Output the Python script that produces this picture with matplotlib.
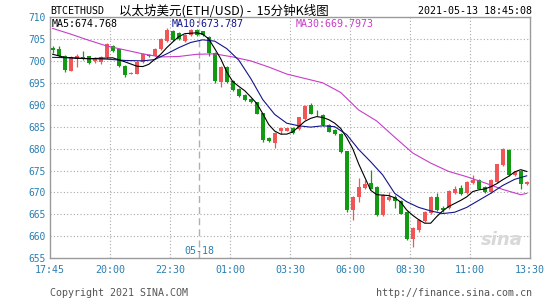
import numpy as np
import matplotlib
matplotlib.use("Agg")
import matplotlib.pyplot as plt

# ---- data (15-min candles, ETH/USD) ----
opens = [703.0, 702.6, 701.0, 697.8, 700.5, 700.9, 701.0, 699.9, 699.7, 700.8,
         703.4, 702.6, 698.9, 697.0, 697.0, 699.8, 701.3, 701.2, 702.6, 704.5,
         706.8, 706.3, 704.6, 705.8, 707.1, 706.7, 705.5, 701.8, 695.1, 698.7,
         695.5, 693.6, 692.3, 691.4, 690.6, 688.1, 682.5, 681.2, 684.0, 684.1,
         684.8, 684.5, 686.8, 690.0, 688.0, 687.7, 685.3, 684.2, 683.4, 679.4,
         666.0, 669.0, 671.0, 672.1, 671.3, 664.9, 668.3, 669.0, 668.0, 665.6,
         659.5, 661.4, 663.4, 665.4, 668.9, 666.5, 666.4, 669.9, 671.0, 669.8,
         672.2, 672.8, 671.3, 670.1, 672.4, 676.2, 679.6, 674.0, 674.9, 672.0]
highs = [703.5, 703.3, 701.3, 701.2, 701.6, 702.3, 701.1, 700.8, 701.0, 704.1,
         703.6, 702.7, 699.0, 697.5, 699.9, 701.7, 701.6, 702.9, 705.2, 707.5,
         707.0, 706.5, 706.2, 707.3, 707.2, 706.9, 705.7, 702.0, 698.9, 698.8,
         695.7, 693.8, 692.5, 691.5, 690.7, 688.2, 682.7, 683.7, 684.7, 684.8,
         685.0, 687.2, 690.0, 690.4, 688.8, 687.9, 685.5, 684.4, 683.6, 679.5,
         669.2, 673.2, 672.8, 675.1, 671.5, 669.6, 670.0, 669.4, 668.2, 665.8,
         662.2, 663.9, 665.8, 669.1, 669.9, 666.9, 670.6, 671.4, 671.7, 672.6,
         673.9, 673.0, 671.5, 673.0, 676.6, 680.2, 679.8, 675.0, 675.1, 672.6]
lows = [701.8, 700.8, 697.4, 697.7, 698.6, 700.3, 699.2, 699.6, 699.4, 700.6,
        702.1, 698.6, 696.3, 696.9, 696.9, 699.6, 700.8, 701.0, 702.5, 704.3,
        704.5, 704.8, 704.4, 705.6, 705.7, 705.6, 701.0, 694.9, 694.0, 694.9,
        693.1, 691.7, 690.8, 690.4, 687.8, 681.4, 681.5, 680.2, 683.3, 684.0,
        683.3, 684.3, 686.6, 687.8, 687.5, 685.1, 683.7, 683.2, 679.0, 665.6,
        663.7, 667.9, 670.8, 670.7, 664.7, 664.7, 668.1, 666.5, 665.0, 659.2,
        657.5, 660.9, 663.2, 665.2, 665.8, 665.6, 666.2, 669.6, 669.4, 669.6,
        672.0, 670.7, 669.9, 669.9, 672.2, 676.0, 673.7, 673.8, 670.7, 671.8]
closes = [702.5, 701.1, 697.9, 700.8, 701.0, 700.6, 699.6, 700.6, 700.9, 703.9,
          702.3, 698.9, 696.7, 697.3, 699.7, 701.6, 701.1, 702.7, 705.0, 707.0,
          704.7, 705.0, 706.0, 707.1, 705.9, 705.8, 701.8, 695.3, 698.7, 695.1,
          693.3, 691.9, 691.0, 690.6, 688.0, 681.9, 681.8, 683.6, 684.6, 684.7,
          683.5, 687.1, 689.8, 688.0, 687.8, 685.3, 683.9, 683.4, 679.2, 666.0,
          669.0, 671.3, 672.0, 670.9, 664.9, 669.4, 669.0, 668.0, 665.2, 659.4,
          662.0, 663.7, 665.6, 668.9, 666.0, 666.0, 670.4, 670.9, 669.6, 672.4,
          672.8, 670.9, 670.1, 672.8, 676.4, 680.0, 673.9, 674.7, 672.0, 672.4]

# moving averages as drawn on the chart (bar index, value)
ma5_x = [0, 2, 4, 6, 8, 10, 12, 14, 15, 16, 18, 19, 20, 21, 22, 24, 25, 26, 27, 28,
         29, 30, 31, 32, 33, 34, 35, 36, 37, 38, 39, 40, 41, 42, 43, 44, 45, 46, 47,
         48, 49, 50, 51, 52, 53, 54, 55, 56, 57, 58, 59, 60, 61, 62, 63, 64, 65, 66,
         67, 68, 69, 70, 71, 72, 73, 74, 75, 76, 77, 78, 79]
ma5_y = [701.5, 700.8, 700.6, 700.5, 700.6, 700.7, 699.8, 698.8, 698.7, 699.2,
         701.5, 703.0, 704.3, 705.5, 706.2, 706.4, 706.1, 705.0, 702.8, 700.5,
         697.5, 695.3, 694.2, 693.2, 691.8, 690.3, 688.0, 685.5, 684.0, 683.3,
         683.3, 683.8, 685.0, 686.2, 686.9, 687.3, 687.1, 686.6, 685.8, 684.6,
         682.5, 680.0, 676.5, 673.5, 670.5, 669.5, 669.4, 669.3, 668.8, 667.8,
         666.0, 664.8, 663.8, 663.0, 663.0, 664.5, 665.8, 666.8, 667.5, 668.2,
         669.0, 670.2, 670.6, 670.8, 671.3, 672.0, 672.9, 673.7, 674.7, 675.2, 674.8]
ma10_x = [0, 3, 6, 9, 12, 15, 17, 19, 21, 23, 25, 27, 29, 31, 33, 35, 37, 39, 41,
          43, 45, 47, 49, 51, 53, 55, 57, 59, 61, 63, 65, 67, 69, 71, 73, 75, 77, 79]
ma10_y = [700.8, 700.7, 700.5, 700.4, 700.1, 700.0, 700.3, 701.6, 703.0, 704.2,
          704.8, 704.5, 702.8, 700.2, 696.0, 691.2, 687.8, 685.8, 685.2, 684.9,
          685.2, 685.0, 683.2, 679.8, 677.0, 674.0, 669.8, 667.9, 666.6, 665.8,
          665.2, 665.5, 666.6, 668.2, 669.8, 671.6, 673.0, 673.8]
ma30_x = [0, 3, 6, 9, 12, 15, 18, 21, 24, 27, 30, 33, 36, 39, 42, 45, 48, 51, 54,
          57, 60, 63, 66, 69, 72, 75, 78, 79]
ma30_y = [707.4, 706.1, 704.7, 703.4, 702.5, 701.6, 700.9, 701.0, 701.5, 701.6,
          700.9, 700.0, 698.6, 697.0, 696.0, 695.0, 692.8, 688.8, 686.3, 682.6,
          679.0, 676.7, 674.8, 673.6, 672.2, 670.7, 669.5, 669.8]

time_labels = ['17:45', '20:00', '22:30', '01:00', '03:30', '06:00', '08:30', '11:00', '13:30']
price_ticks = [655, 660, 665, 670, 675, 680, 685, 690, 695, 700, 705, 710]
day_break = 24.45

UP = '#f05656'
DOWN = '#129a12'
LABEL_BLUE = '#2a7fb0'
MONO = 'DejaVu Sans Mono'

fig = plt.figure(figsize=(5.45, 3.0), dpi=100)
ax = fig.add_axes([50 / 545, 1 - 258.3 / 300, 480 / 545, (258.3 - 17) / 300])

xlim = (-0.45, 79.55)
ax.set_xlim(*xlim)
ax.set_ylim(655, 710)

# grid
grid_x = np.linspace(xlim[0], xlim[1], len(time_labels))
for gx in grid_x[1:-1]:
    ax.axvline(gx, color='#a8a8a8', linewidth=0.8, linestyle=(0, (1, 2)), zorder=0)
for py in price_ticks[1:-1]:
    ax.axhline(py, color='#a8a8a8', linewidth=0.8, linestyle=(0, (1, 2)), zorder=0)
ax.axvline(day_break, color='#b0b0b0', linewidth=1.0, linestyle=(0, (5, 3)), zorder=0)

# candles
o = np.array(opens)
c = np.array(closes)
h = np.array(highs)
l = np.array(lows)
x = np.arange(len(o))
colors = [UP if cc >= oo else DOWN for oo, cc in zip(o, c)]
ax.vlines(x, l, h, colors=colors, linewidth=0.9, zorder=2)
bottoms = np.minimum(o, c)
heights = np.maximum(np.abs(c - o), 0.15)
ax.bar(x, heights, bottom=bottoms, width=0.72, color=colors, linewidth=0, zorder=3)

# moving averages
ax.plot(ma30_x, ma30_y, color='#c83cc8', linewidth=0.8, zorder=4)
ax.plot(ma10_x, ma10_y, color='#14148c', linewidth=0.8, zorder=4)
ax.plot(ma5_x, ma5_y, color='black', linewidth=0.8, zorder=5)

# axes styling
for s in ax.spines.values():
    s.set_color('#9a9a9a')
    s.set_linewidth(1.0)
ax.set_xticks(grid_x)
ax.set_xticklabels(time_labels, fontfamily=MONO, fontsize=7.2, color=LABEL_BLUE)
ax.set_yticks(price_ticks)
ax.set_yticklabels([str(p) for p in price_ticks], fontfamily=MONO, fontsize=6.9, color=LABEL_BLUE)
ax.tick_params(axis='both', length=0)
ax.tick_params(axis='x', pad=5)
ax.tick_params(axis='y', pad=3)

# legend row inside the plot
ax.text(0.004, 0.972, 'MA5:674.768', transform=ax.transAxes, fontfamily=MONO,
        fontsize=7.2, color='black', va='center', ha='left')
ax.text(0.254, 0.972, 'MA10:673.787', transform=ax.transAxes, fontfamily=MONO,
        fontsize=7.2, color='#14148c', va='center', ha='left')
ax.text(0.512, 0.972, 'MA30:669.7973', transform=ax.transAxes, fontfamily=MONO,
        fontsize=7.2, color='#c83cc8', va='center', ha='left')

# day marker
ax.text(day_break, 656.6, '05-18', fontfamily=MONO, fontsize=7.2, color=LABEL_BLUE,
        ha='center', va='center', zorder=1)

# watermark
ax.text(0.985, 0.04, 'sina', transform=ax.transAxes, fontsize=13, fontstyle='italic',
        fontweight='bold', color='#d8d8d8', ha='right', va='bottom', zorder=1)

# header
fig.text(50 / 545, 1 - 11 / 300, 'BTCETHUSD', fontfamily=MONO, fontsize=7.2,
         color='black', va='center', ha='left')
fig.text(119 / 545, 1 - 11 / 300, '以太坊美元(ETH/USD) -  15分钟K线图',
         family=['Noto Sans CJK SC', 'DejaVu Sans'], fontsize=9,
         color='black', va='center', ha='left')
fig.text(532 / 545, 1 - 11 / 300, '2021-05-13 18:45:08', fontfamily=MONO, fontsize=7.2,
         color='black', va='center', ha='right')

# footer
fig.text(50 / 545, 1 - 293 / 300, 'Copyright 2021 SINA.COM', fontfamily=MONO,
         fontsize=7.2, color='#555555', va='center', ha='left')
fig.text(532 / 545, 1 - 293 / 300, 'http://finance.sina.com.cn', fontfamily=MONO,
         fontsize=7.2, color='#555555', va='center', ha='right')

fig.savefig('out.png', dpi=100)
